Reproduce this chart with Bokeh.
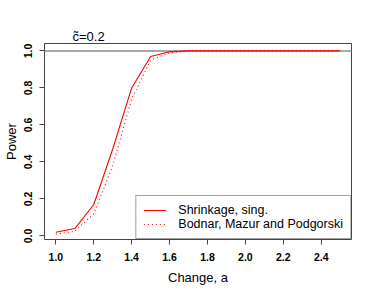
from bokeh.plotting import figure
from bokeh.models import Range1d, Span, Legend, LegendItem, FixedTicker, Title
from bokeh.embed import file_html
from bokeh.resources import INLINE

change_a = [1.0, 1.1, 1.2, 1.3, 1.4, 1.5, 1.6, 1.7, 1.8, 1.9, 2.0, 2.1, 2.2, 2.3, 2.4, 2.5]
shrinkage_sing = [0.02, 0.04, 0.17, 0.47, 0.80, 0.97, 0.995, 1.0, 1.0, 1.0, 1.0, 1.0, 1.0, 1.0, 1.0, 1.0]
bodnar_mazur_podgorski = [0.01, 0.025, 0.12, 0.38, 0.74, 0.95, 0.99, 1.0, 1.0, 1.0, 1.0, 1.0, 1.0, 1.0, 1.0, 1.0]
x_ticks = [1.0, 1.2, 1.4, 1.6, 1.8, 2.0, 2.2, 2.4]
y_ticks = [0.0, 0.2, 0.4, 0.6, 0.8, 1.0]
series_names = ["Shrinkage, sing.", "Bodnar, Mazur and Podgorski"]
title_text = "c\u0303=0.2"

FONT = "Liberation Sans"

p = figure(width=374, height=294, output_backend="svg", toolbar_location=None,
           x_range=Range1d(0.94, 2.56), y_range=Range1d(-0.019, 1.04),
           min_border_left=44, min_border_right=23, min_border_top=43, min_border_bottom=55)

p.title = Title(text=title_text, align="left", offset=28, standoff=0, vertical_align="bottom",
                text_font=FONT, text_font_size="13px", text_font_style="normal",
                text_color="black")

p.outline_line_color = "#444444"
p.outline_line_width = 1
p.xgrid.visible = False
p.ygrid.visible = False
p.background_fill_color = "white"
p.border_fill_color = "white"

hline = Span(location=1.0, dimension="width", line_color="#a8a8a8", line_width=2, level="underlay")
p.add_layout(hline)

r1 = p.line(change_a, shrinkage_sing, line_color="#ff0000", line_width=1.1)
r2 = p.line(change_a, bodnar_mazur_podgorski, line_color="#ff0000", line_width=1.1, line_dash="1 3")

for ax in (p.xaxis[0], p.yaxis[0]):
    ax.axis_line_color = None
    ax.major_tick_line_color = "#444444"
    ax.major_tick_out = 5
    ax.major_tick_in = 0
    ax.minor_tick_line_color = None
    ax.major_label_text_font = FONT
    ax.major_label_text_font_size = "10.5px"
    ax.major_label_text_font_style = "bold"
    ax.major_label_text_color = "black"
    ax.axis_label_text_font = FONT
    ax.axis_label_text_font_size = "13px"
    ax.axis_label_text_font_style = "normal"
    ax.axis_label_text_color = "black"

p.xaxis.ticker = FixedTicker(ticks=x_ticks)
p.xaxis.major_label_overrides = {t: f"{t:.1f}" for t in x_ticks}
p.xaxis.axis_label = "Change, a"
p.xaxis.major_label_standoff = 8
p.xaxis.axis_label_standoff = 6

p.yaxis.ticker = FixedTicker(ticks=y_ticks)
p.yaxis.major_label_overrides = {t: f"{t:.1f}" for t in y_ticks}
p.yaxis.axis_label = "Power"
p.yaxis.major_label_orientation = "vertical"
p.yaxis.major_label_standoff = 7
p.yaxis.axis_label_standoff = 3

legend = Legend(items=[LegendItem(label=series_names[0], renderers=[r1]),
                       LegendItem(label=series_names[1], renderers=[r2])],
                location="bottom_right", margin=0, padding=7, spacing=0,
                glyph_width=23, glyph_height=14, label_height=14, label_standoff=12,
                label_text_font=FONT, label_text_font_size="12.5px", label_text_color="black",
                border_line_color="#444444", border_line_width=1,
                background_fill_color="white", background_fill_alpha=1.0)
p.add_layout(legend)

open("out.html", "w").write(file_html(p, INLINE))
